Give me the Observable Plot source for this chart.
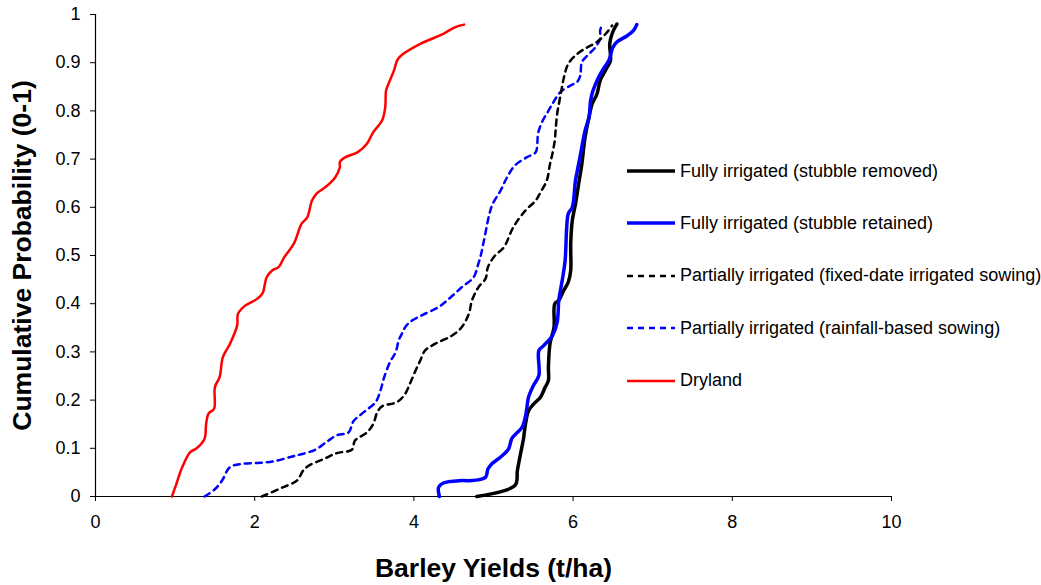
<!DOCTYPE html>
<html>
<head>
<meta charset="utf-8">
<script src="https://cdn.jsdelivr.net/npm/d3@7"></script>
<script src="https://cdn.jsdelivr.net/npm/@observablehq/plot@0.6"></script>
<style>
  body { margin: 0; background: #fff; }
  #wrap { position: relative; width: 1041px; height: 585px; font-family: "Liberation Sans", Arial, sans-serif; }
  #legend { position: absolute; left: 627px; top: 159px; }
  .row { display: flex; align-items: center; height: 24px; margin-bottom: 28.4px; font-size: 18px; color: #000; white-space: nowrap; }
  .row svg { margin-right: 5px; }
  g[aria-label="x-axis label"] text, g[aria-label="y-axis label"] text { font-weight: bold; font-size: 26.5px; }
</style>
</head>
<body>
<div id="wrap"></div>
<script>
// ---- Data ----
const seriesNames = [
  "Fully irrigated (stubble removed)",
  "Fully irrigated (stubble retained)",
  "Partially irrigated (fixed-date irrigated sowing)",
  "Partially irrigated (rainfall-based sowing)",
  "Dryland"
];

const removedYield = [4.79,5.27,5.30,5.34,5.38,5.39,5.44,5.50,5.59,5.65,5.69,5.69,5.71,5.76,5.77,5.82,5.88,5.94,5.97,5.97,5.97,5.99,6.03,6.07,6.11,6.15,6.20,6.24,6.30,6.34,6.43,6.47,6.46,6.49,6.55];
const removedProb  = [0,0.023,0.054,0.089,0.123,0.137,0.178,0.191,0.206,0.227,0.241,0.268,0.317,0.351,0.40,0.407,0.427,0.445,0.469,0.51,0.524,0.573,0.607,0.649,0.69,0.745,0.787,0.815,0.835,0.863,0.891,0.905,0.939,0.96,0.98];

const retainedYield = [4.32,4.31,4.37,4.60,4.73,4.90,4.93,4.98,5.09,5.19,5.23,5.30,5.36,5.40,5.42,5.44,5.50,5.57,5.57,5.63,5.74,5.80,5.82,5.84,5.87,5.90,5.92,5.94,5.99,6.03,6.07,6.11,6.15,6.20,6.22,6.25,6.32,6.38,6.45,6.50,6.55,6.68,6.76,6.80];
const retainedProb  = [0,0.019,0.028,0.033,0.033,0.04,0.057,0.068,0.082,0.099,0.12,0.133,0.144,0.165,0.185,0.206,0.23,0.251,0.303,0.313,0.334,0.362,0.407,0.427,0.455,0.49,0.559,0.587,0.60,0.656,0.69,0.725,0.759,0.787,0.822,0.842,0.87,0.887,0.905,0.932,0.943,0.956,0.967,0.979];

const fixedYield = [2.09,2.34,2.53,2.61,2.68,2.87,3.03,3.22,3.26,3.41,3.49,3.54,3.60,3.79,3.89,3.95,4.02,4.08,4.14,4.27,4.48,4.60,4.69,4.73,4.81,4.90,4.93,5.02,5.13,5.25,5.40,5.53,5.59,5.67,5.71,5.74,5.77,5.78,5.80,5.83,5.86,5.89,5.94,6.05,6.18,6.30,6.41,6.49];
const fixedProb  = [0,0.018,0.033,0.054,0.064,0.078,0.09,0.097,0.116,0.133,0.151,0.175,0.187,0.196,0.213,0.234,0.261,0.282,0.303,0.317,0.334,0.351,0.379,0.407,0.434,0.452,0.476,0.50,0.517,0.559,0.593,0.614,0.631,0.656,0.69,0.711,0.739,0.759,0.794,0.822,0.849,0.873,0.898,0.918,0.932,0.943,0.96,0.977];

const rainfallYield = [1.37,1.50,1.59,1.69,1.86,2.07,2.24,2.45,2.57,2.76,2.91,3.03,3.18,3.24,3.37,3.52,3.58,3.62,3.70,3.77,3.81,3.85,3.89,3.95,4.10,4.31,4.46,4.60,4.75,4.81,4.84,4.88,4.95,4.99,5.09,5.17,5.27,5.42,5.53,5.55,5.56,5.61,5.69,5.76,5.84,5.97,6.05,6.09,6.11,6.18,6.28,6.34,6.34,6.36];
const rainfallProb  = [0,0.015,0.033,0.061,0.068,0.07,0.073,0.082,0.087,0.097,0.114,0.127,0.133,0.156,0.175,0.196,0.22,0.244,0.279,0.299,0.324,0.338,0.351,0.362,0.376,0.393,0.413,0.434,0.455,0.483,0.50,0.531,0.587,0.607,0.635,0.662,0.687,0.704,0.714,0.732,0.753,0.777,0.80,0.82,0.839,0.853,0.86,0.873,0.901,0.915,0.932,0.95,0.967,0.977];

const drylandYield = [0.96,1.01,1.09,1.19,1.27,1.37,1.39,1.42,1.49,1.50,1.56,1.60,1.69,1.78,1.79,1.88,2.03,2.10,2.15,2.22,2.30,2.37,2.49,2.59,2.66,2.72,2.78,2.89,3.01,3.07,3.07,3.14,3.29,3.41,3.49,3.60,3.64,3.65,3.68,3.75,3.79,3.84,4.08,4.37,4.52,4.63];
const drylandProb  = [0,0.023,0.061,0.092,0.10,0.12,0.151,0.172,0.182,0.227,0.248,0.289,0.317,0.355,0.379,0.396,0.41,0.422,0.455,0.469,0.476,0.496,0.524,0.566,0.579,0.614,0.629,0.642,0.662,0.683,0.694,0.704,0.714,0.732,0.756,0.780,0.808,0.842,0.856,0.884,0.905,0.915,0.939,0.96,0.974,0.979];

const xTicks = [0, 2, 4, 6, 8, 10];
const yTicks = [0, 0.1, 0.2, 0.3, 0.4, 0.5, 0.6, 0.7, 0.8, 0.9, 1];

// ---- Styles per series ----
const seriesStyles = [
  {stroke: "#000000", strokeWidth: 3.5, dash: null},
  {stroke: "#0000ff", strokeWidth: 3.5, dash: null},
  {stroke: "#000000", strokeWidth: 2.5, dash: "6,5"},
  {stroke: "#0000ff", strokeWidth: 2.5, dash: "6,5"},
  {stroke: "#ff0000", strokeWidth: 2.5, dash: null}
];

const toTable = (xs, ys) => xs.map((x, i) => ({yield: x, prob: ys[i]}));
const tables = [
  toTable(removedYield, removedProb),
  toTable(retainedYield, retainedProb),
  toTable(fixedYield, fixedProb),
  toTable(rainfallYield, rainfallProb),
  toTable(drylandYield, drylandProb)
];

// draw order: dryland, dashed, then solid on top
const order = [4, 3, 2, 0, 1];
const lineMarks = order.map(i => Plot.line(tables[i], {
  x: "yield", y: "prob",
  stroke: seriesStyles[i].stroke,
  strokeWidth: seriesStyles[i].strokeWidth,
  strokeDasharray: seriesStyles[i].dash,
  curve: "catmull-rom"
}));

const chart = Plot.plot({
  width: 1041,
  height: 585,
  marginLeft: 95,
  marginRight: 150,
  marginTop: 14,
  marginBottom: 89,
  style: {fontFamily: "'Liberation Sans', Arial, sans-serif", fontSize: "18px", color: "#000", background: "#fff"},
  x: {domain: [0, 10]},
  y: {domain: [0, 1]},
  marks: [
    Plot.axisX({ticks: xTicks, tickSize: 5, tickPadding: 14, label: "Barley Yields (t/ha)", labelArrow: "none", labelAnchor: "center", labelOffset: 80}),
    Plot.axisY({ticks: yTicks, tickSize: 5, tickPadding: 10, tickFormat: d => String(+d.toFixed(1)), label: "Cumulative Probability (0-1)", labelArrow: "none", labelAnchor: "center", labelOffset: 83}),
    Plot.ruleX([0], {stroke: "#000", strokeWidth: 1.2}),
    Plot.ruleY([0], {stroke: "#000", strokeWidth: 1.2}),
    ...lineMarks
  ]
});

const wrap = document.getElementById("wrap");
wrap.appendChild(chart);

// ---- Legend ----
const legend = document.createElement("div");
legend.id = "legend";
seriesNames.forEach((name, i) => {
  const st = seriesStyles[i];
  const row = document.createElement("div");
  row.className = "row";
  row.innerHTML = `<svg width="48" height="10"><line x1="0" x2="48" y1="5" y2="5" stroke="${st.stroke}" stroke-width="${st.strokeWidth}" ${st.dash ? `stroke-dasharray="${st.dash}"` : ""}/></svg><span>${name}</span>`;
  legend.appendChild(row);
});
wrap.appendChild(legend);
</script>
</body>
</html>
